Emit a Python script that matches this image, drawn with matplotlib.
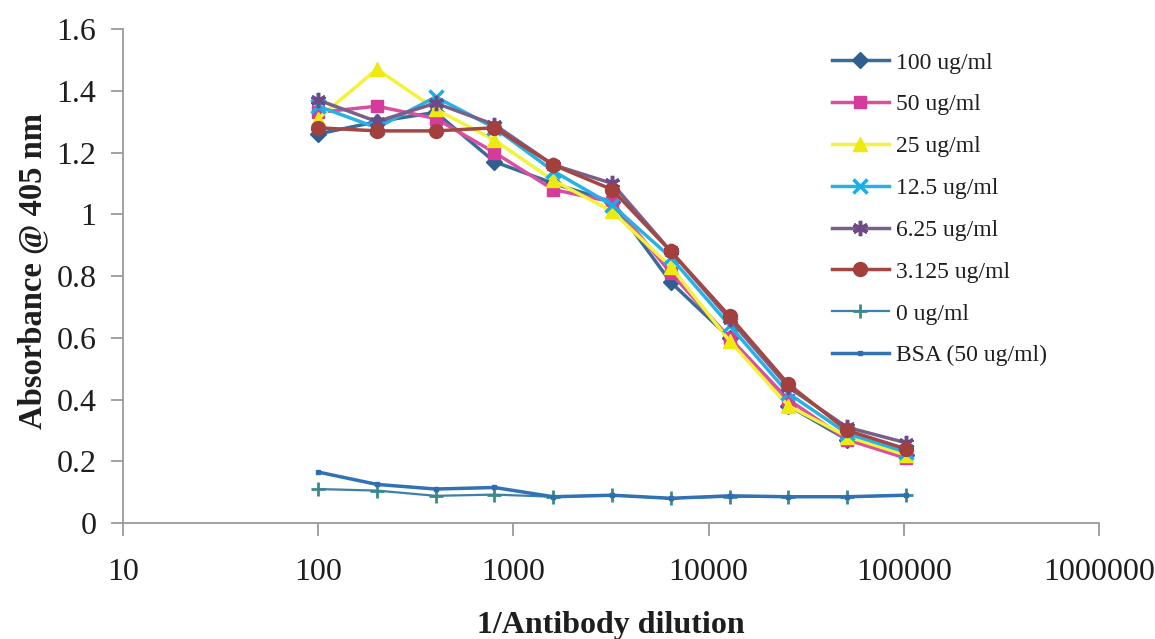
import matplotlib
matplotlib.use("Agg")
import matplotlib.pyplot as plt
from matplotlib.ticker import FixedLocator, FuncFormatter, NullLocator

plt.rcParams['font.family'] = ['Liberation Serif', 'DejaVu Serif']

# Reciprocal antibody dilution (two-fold series)
dilutions = [100, 200, 400, 800, 1600, 3200, 6400, 12800, 25600, 51200, 102400]

# Absorbance at 405 nm for each coating concentration
abs_100 = [1.26, 1.30, 1.33, 1.17, 1.10, 1.04, 0.78, 0.60, 0.38, 0.27, 0.22]
abs_50 = [1.33, 1.35, 1.31, 1.20, 1.08, 1.04, 0.81, 0.60, 0.40, 0.27, 0.21]
abs_25 = [1.31, 1.47, 1.34, 1.24, 1.11, 1.01, 0.83, 0.59, 0.38, 0.28, 0.22]
abs_12_5 = [1.35, 1.28, 1.38, 1.28, 1.14, 1.03, 0.86, 0.64, 0.42, 0.29, 0.23]
abs_6_25 = [1.37, 1.30, 1.36, 1.29, 1.16, 1.10, 0.88, 0.66, 0.44, 0.31, 0.26]
abs_3_125 = [1.28, 1.27, 1.27, 1.28, 1.16, 1.08, 0.88, 0.67, 0.45, 0.30, 0.24]
abs_0 = [0.11, 0.105, 0.088, 0.092, 0.085, 0.09, 0.08, 0.085, 0.085, 0.085, 0.09]
abs_bsa = [0.165, 0.125, 0.11, 0.115, 0.085, 0.09, 0.08, 0.088, 0.085, 0.085, 0.09]

series_labels = ["100 ug/ml", "50 ug/ml", "25 ug/ml", "12.5 ug/ml",
                 "6.25 ug/ml", "3.125 ug/ml", "0 ug/ml", "BSA (50 ug/ml)"]

x_ticks = [10, 100, 1000, 10000, 100000, 1000000]
y_ticks = [0, 0.2, 0.4, 0.6, 0.8, 1.0, 1.2, 1.4, 1.6]

fig = plt.figure(figsize=(11.55, 6.39), dpi=100)
ax = fig.add_axes([123 / 1155, 1 - 523 / 639, (1099 - 123) / 1155, (523 - 29) / 639])

styles = [
    (abs_100, dict(color='#3A6C9A', marker='D', markersize=8, mfc='#2F5F8F', mec='#2F5F8F')),
    (abs_50, dict(color='#DA4FA0', marker='s', markersize=9, mfc='#D63A9A', mec='#D63A9A')),
    (abs_25, dict(color='#F4F23A', marker='^', markersize=10, mfc='#EEEA10', mec='#EEEA10')),
    (abs_12_5, dict(color='#27B2E4', marker='x', markersize=10, mew=2.5, mec='#1AAEE6')),
    (abs_6_25, dict(color='#77608A', marker=(6, 2, 0), markersize=11, mew=2.5, mec='#6E4A86')),
    (abs_3_125, dict(color='#A34744', marker='o', markersize=10, mfc='#A33F3C', mec='#A33F3C')),
    (abs_0, dict(color='#3F7FA8', marker='+', markersize=10, mew=2, mec='#3A8A8A', lw=1.6)),
    (abs_bsa, dict(color='#3072B4', marker='s', markersize=3, mfc='#2E6EB0', mec='#2E6EB0')),
]

for (vals, st), lab in zip(styles, series_labels):
    st = dict(st)
    lw = st.pop('lw', 2.5)
    ax.plot(dilutions, vals, label=lab, lw=lw, **st)

ax.set_xscale('log')
ax.set_xlim(10, 1000000)
ax.set_ylim(0, 1.6)
ax.xaxis.set_major_locator(FixedLocator(x_ticks))
ax.xaxis.set_minor_locator(NullLocator())
ax.xaxis.set_major_formatter(FuncFormatter(lambda v, p: f"{int(round(v))}"))
ax.yaxis.set_major_locator(FixedLocator(y_ticks))
ax.yaxis.set_major_formatter(FuncFormatter(lambda v, p: f"{v:g}"))

for side in ('top', 'right'):
    ax.spines[side].set_visible(False)
for side in ('left', 'bottom'):
    ax.spines[side].set_color('#9a9a9a')
    ax.spines[side].set_linewidth(1.3)

ax.tick_params(axis='x', direction='out', length=9, width=1.3, color='#9a9a9a',
               labelsize=23, labelcolor='#1e1e1e', pad=16)
ax.tick_params(axis='y', direction='out', length=9, width=1.3, color='#9a9a9a',
               labelsize=23, labelcolor='#1e1e1e', pad=10)

fig.text(611 / 1155, 1 - 625 / 639, "1/Antibody dilution", ha='center', va='center',
         fontsize=23, fontweight='bold', color='#1e1e1e')
fig.text(33 / 1155, 1 - 271 / 639, "Absorbance @ 405 nm", ha='center', va='center',
         rotation=90, fontsize=23.5, fontweight='bold', color='#1e1e1e')

leg = ax.legend(loc='upper left', bbox_to_anchor=(832 / 1155, 1 - 52 / 639),
                bbox_transform=fig.transFigure, frameon=False, fontsize=17,
                handlelength=2.4, handletextpad=0.3, labelspacing=0.86,
                borderpad=0, borderaxespad=0)
for t in leg.get_texts():
    t.set_color('#1e1e1e')

fig.savefig('out.png', dpi=100)
